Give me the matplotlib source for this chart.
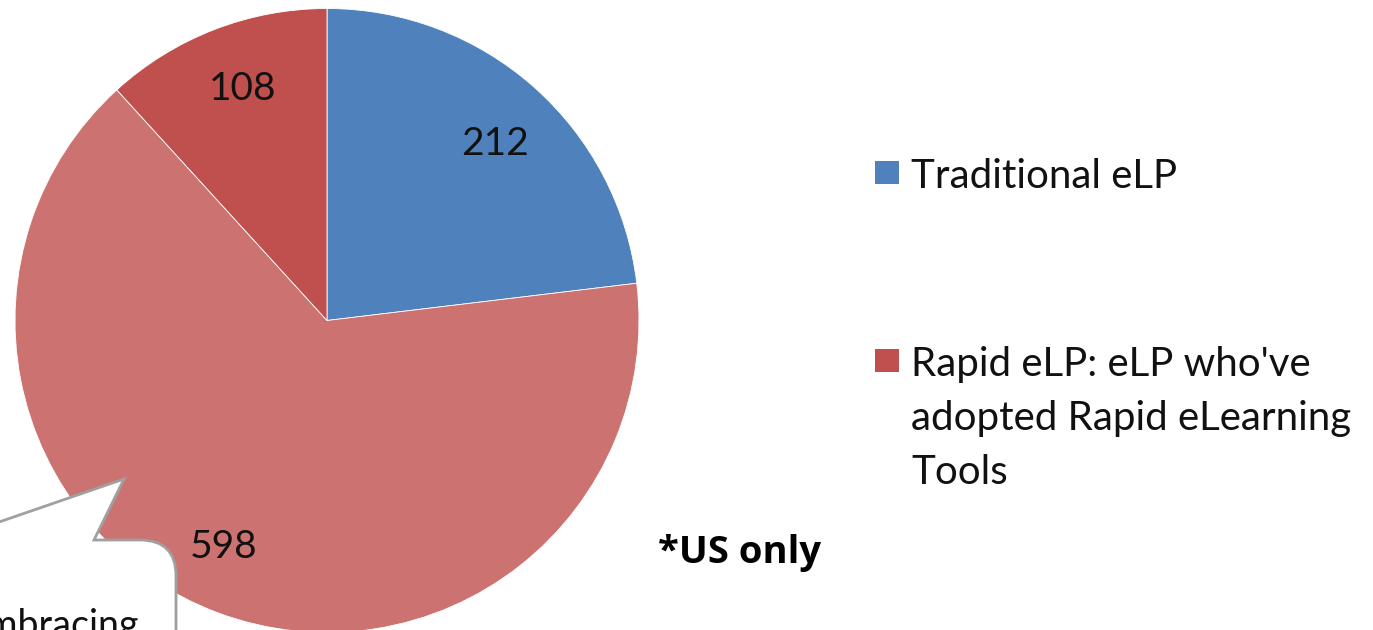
import numpy as np
import matplotlib.pyplot as plt
from matplotlib.patches import Rectangle, PathPatch
from matplotlib.path import Path

# slice values, clockwise from 12 o'clock
values = [212, 598, 108]
colors = ['#4F81BD', '#CC7270', '#C0504D']

legend_labels = ['Traditional eLP',
                 "Rapid eLP: eLP who've\nadopted Rapid eLearning\nTools"]
legend_colors = ['#4F81BD', '#C0504D']

note = '*US only'
callout_text = 'Embracing'

W, H = 1373, 630
fig = plt.figure(figsize=(W / 100, H / 100), dpi=100)
ax = fig.add_axes([0, 0, 1, 1])

total = sum(values)
wedges, texts, autotexts = ax.pie(
    values, colors=colors, startangle=90, counterclock=False,
    center=(327, H - 320.5), radius=312,
    autopct=lambda p: f'{p * total / 100:.0f}', pctdistance=0.79,
    wedgeprops=dict(edgecolor='white', linewidth=0.6),
    textprops=dict(fontsize=28, family='Lato', color='#111111'))

# nudge the value labels a little
for t, (dx, dy) in zip(autotexts, [(4, -8), (-18, 5), (5, 2)]):
    x, y = t.get_position()
    t.set_position((x + dx, y + dy))

ax.set_xlim(0, W)
ax.set_ylim(0, H)
ax.set_aspect('auto')
ax.axis('off')

# legend drawn by hand: squares + text
for y, lab, c in zip([H - 172, H - 360], legend_labels, legend_colors):
    ax.add_patch(Rectangle((875, y - 12), 24, 23, facecolor=c,
                           edgecolor='none'))
    ax.text(911, y + 14, lab, fontsize=29, family='Lato', color='#111111',
            va='top', ha='left', linespacing=1.56)

ax.text(658, H - 563, note, fontsize=27.5, family='Open Sans',
        fontweight='bold', color='black', va='baseline', ha='left')

# speech-bubble callout at the bottom left
verts = [(-30, H - 532), (124, H - 479), (94, H - 540), (140, H - 540),
         (176, H - 540), (176, H - 576), (176, -20), (-30, -20),
         (-30, H - 532)]
codes = [Path.MOVETO, Path.LINETO, Path.LINETO, Path.LINETO,
         Path.CURVE3, Path.CURVE3, Path.LINETO, Path.LINETO, Path.CLOSEPOLY]
ax.add_patch(PathPatch(Path(verts, codes), facecolor='white',
                       edgecolor='#A0A0A0', linewidth=2, zorder=5))
ax.text(139, H - 637, callout_text, fontsize=27, family='Lato',
        color='#111111', ha='right', va='baseline', zorder=6, clip_on=True)

fig.savefig('out.png', dpi=100)
